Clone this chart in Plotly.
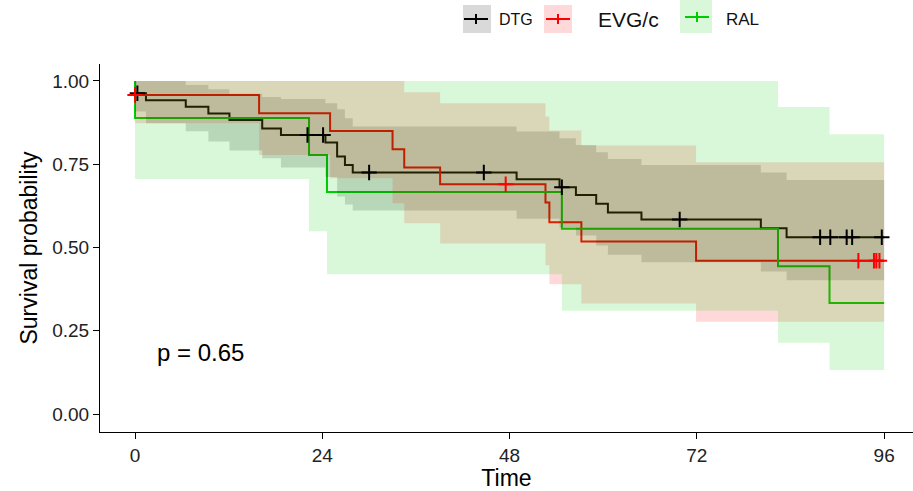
import plotly.graph_objects as go

# ---------------- data ----------------
t_end = 96

dtg_time  = [0, 1.4, 6.5, 9.4, 12.1, 16.3, 18.7, 24.4, 25.9, 26.9, 27.9, 48.9, 54.4, 56.5, 59.1, 60.6, 64.9, 80.2, 83.5]
dtg_surv  = [0.963, 0.942, 0.923, 0.902, 0.883, 0.857, 0.838, 0.815, 0.773, 0.748, 0.725, 0.705, 0.681, 0.658, 0.631, 0.605, 0.584, 0.558, 0.531]
dtg_upper = [1.0, 1.0, 0.988, 0.975, 0.962, 0.952, 0.946, 0.933, 0.915, 0.888, 0.863, 0.848, 0.828, 0.808, 0.786, 0.766, 0.748, 0.725, 0.703]
dtg_lower = [0.908, 0.873, 0.849, 0.818, 0.791, 0.768, 0.740, 0.712, 0.653, 0.629, 0.611, 0.586, 0.560, 0.536, 0.506, 0.478, 0.456, 0.428, 0.402]
dtg_cens_t = [0.3, 22.1, 24.1, 30.0, 44.7, 54.7, 69.8, 87.8, 89.1, 91.2, 91.9, 95.7]
dtg_cens_s = [0.963, 0.838, 0.838, 0.725, 0.725, 0.681, 0.584, 0.531, 0.531, 0.531, 0.531, 0.531]

evg_time  = [0, 15.9, 25.0, 33.0, 34.5, 39.1, 52.6, 53.1, 57.2, 71.9]
evg_surv  = [0.958, 0.903, 0.850, 0.795, 0.740, 0.690, 0.635, 0.576, 0.518, 0.460]
evg_upper = [1.0, 1.0, 1.0, 1.0, 0.966, 0.933, 0.893, 0.851, 0.806, 0.756]
evg_lower = [0.873, 0.778, 0.708, 0.633, 0.573, 0.512, 0.447, 0.390, 0.332, 0.277]
evg_cens_t = [0.0, 47.5, 92.7, 94.7, 95.0, 95.4]
evg_cens_s = [0.958, 0.690, 0.460, 0.460, 0.460, 0.460]

ral_time  = [0, 22.3, 24.6, 54.7, 82.4, 89.0]
ral_surv  = [0.889, 0.778, 0.667, 0.556, 0.444, 0.333]
ral_upper = [1.0, 1.0, 1.0, 1.0, 0.922, 0.840]
ral_lower = [0.706, 0.549, 0.420, 0.310, 0.214, 0.132]

group_names = ["DTG", "EVG/c", "RAL"]
x_ticks = [0, 24, 48, 72, 96]
y_ticks = [0, 0.25, 0.5, 0.75, 1.0]
y_tick_text = ["0.00", "0.25", "0.50", "0.75", "1.00"]
p_text = "p = 0.65"

# ---------------- styling ----------------
line_cols = {"DTG": "#000000", "EVG/c": "#FF0000", "RAL": "#00CD00"}
fill_cols = {"DTG": "rgba(0,0,0,0.15)", "EVG/c": "rgba(255,0,0,0.15)", "RAL": "rgba(0,205,0,0.15)"}

groups = {
    "DTG": (dtg_time, dtg_surv, dtg_upper, dtg_lower),
    "EVG/c": (evg_time, evg_surv, evg_upper, evg_lower),
    "RAL": (ral_time, ral_surv, ral_upper, ral_lower),
}
censors = {
    "DTG": (dtg_cens_t, dtg_cens_s),
    "EVG/c": (evg_cens_t, evg_cens_s),
}


def step_path(times, vals, end):
    xs, ys = [], []
    for i, (t, v) in enumerate(zip(times, vals)):
        tn = times[i + 1] if i + 1 < len(times) else end
        xs += [t, tn]
        ys += [v, v]
    return xs, ys


fig = go.Figure()

# survival step lines (drawn first; ribbons overlay them as in ggsurvplot)
for g in group_names:
    t, s, u, l = groups[g]
    fig.add_trace(go.Scatter(
        x=[0] + t + [t_end], y=[1.0] + s + [s[-1]],
        mode="lines", line=dict(color=line_cols[g], width=2, shape="hv"),
        showlegend=False, hoverinfo="skip"))

# confidence ribbons
for g in group_names:
    t, s, u, l = groups[g]
    ux, uy = step_path(t, u, t_end)
    lx, ly = step_path(t, l, t_end)
    fig.add_trace(go.Scatter(
        x=ux + lx[::-1], y=uy + ly[::-1], mode="lines",
        line=dict(width=0), fill="toself", fillcolor=fill_cols[g],
        showlegend=False, hoverinfo="skip"))

# censor marks
for g in ["DTG", "EVG/c"]:
    ct, cs = censors[g]
    fig.add_trace(go.Scatter(
        x=ct, y=cs, mode="markers",
        marker=dict(symbol="cross-thin", size=11,
                    line=dict(color=line_cols[g], width=2)),
        showlegend=False, hoverinfo="skip"))

# ---------------- layout ----------------
W, H = 913, 491
L, R, T, B = 100, 0, 64, 59


def px_x(p):
    return (p - L) / (W - L - R)


def px_y(p):
    return (H - B - p) / (H - T - B)


shapes = []
annotations = []

legend_items = [
    # name, box x0, x1, y0, y1, cross cx, cy, label cx, label size
    ("DTG", 463, 491, 5, 33, 476, 19, 516, 16),
    ("EVG/c", 544, 572, 5, 33, 558, 19, 628, 21),
    ("RAL", 680, 712, 0, 33, 697, 17, 742, 17),
]
for name, bx0, bx1, by0, by1, cx, cy, lx, fs in legend_items:
    shapes.append(dict(type="rect", xref="paper", yref="paper",
                       x0=px_x(bx0), x1=px_x(bx1), y0=px_y(by1), y1=px_y(by0),
                       fillcolor=fill_cols[name], line=dict(width=0), layer="above"))
    shapes.append(dict(type="line", xref="paper", yref="paper",
                       x0=px_x(cx - 12), x1=px_x(cx + 12), y0=px_y(cy), y1=px_y(cy),
                       line=dict(color=line_cols[name], width=2), layer="above"))
    shapes.append(dict(type="line", xref="paper", yref="paper",
                       x0=px_x(cx), x1=px_x(cx), y0=px_y(cy - 5), y1=px_y(cy + 5),
                       line=dict(color=line_cols[name], width=2), layer="above"))
    annotations.append(dict(xref="paper", yref="paper", x=px_x(lx), y=px_y(20),
                            text=name, showarrow=False, xanchor="center", yanchor="middle",
                            font=dict(size=fs, color="#111111", family="Liberation Sans, Arial, sans-serif")))

annotations.append(dict(x=2.5, y=0.186, xref="x", yref="y", text=p_text, showarrow=False,
                        xanchor="left", yanchor="middle",
                        font=dict(size=24, color="#000000", family="Liberation Sans, Arial, sans-serif")))

fig.update_layout(
    width=W, height=H,
    margin=dict(l=L, r=R, t=T, b=B, autoexpand=False),
    paper_bgcolor="white", plot_bgcolor="white",
    font=dict(family="Liberation Sans, Arial, sans-serif", color="#000000"),
    showlegend=False,
    shapes=shapes, annotations=annotations,
    xaxis=dict(range=[-4.49, 99.7], tickvals=x_ticks, ticks="outside", ticklen=6,
               tickwidth=1, tickcolor="#000000", showline=True, linecolor="#000000",
               linewidth=1, showgrid=False, zeroline=False,
               tickfont=dict(size=19, color="#222222"),
               title=dict(text="Time", font=dict(size=23, color="#000000"), standoff=4)),
    yaxis=dict(range=[-0.054, 1.051], tickvals=y_ticks, ticktext=y_tick_text,
               ticks="outside", ticklen=6, tickwidth=1, tickcolor="#000000",
               showline=True, linecolor="#000000", linewidth=1, showgrid=False,
               zeroline=False, tickfont=dict(size=19, color="#222222"),
               title=dict(text="Survival probability", font=dict(size=23, color="#000000"), standoff=8)),
)

fig.write_html("out.html", config={"displayModeBar": False})

# remove the default page margin so the figure sits at the window's top-left corner
with open("out.html", "r", encoding="utf-8") as f:
    html = f.read()
html = html.replace("<head>", "<head><style>html,body{margin:0;padding:0;overflow:hidden;}</style>", 1)
with open("out.html", "w", encoding="utf-8") as f:
    f.write(html)
